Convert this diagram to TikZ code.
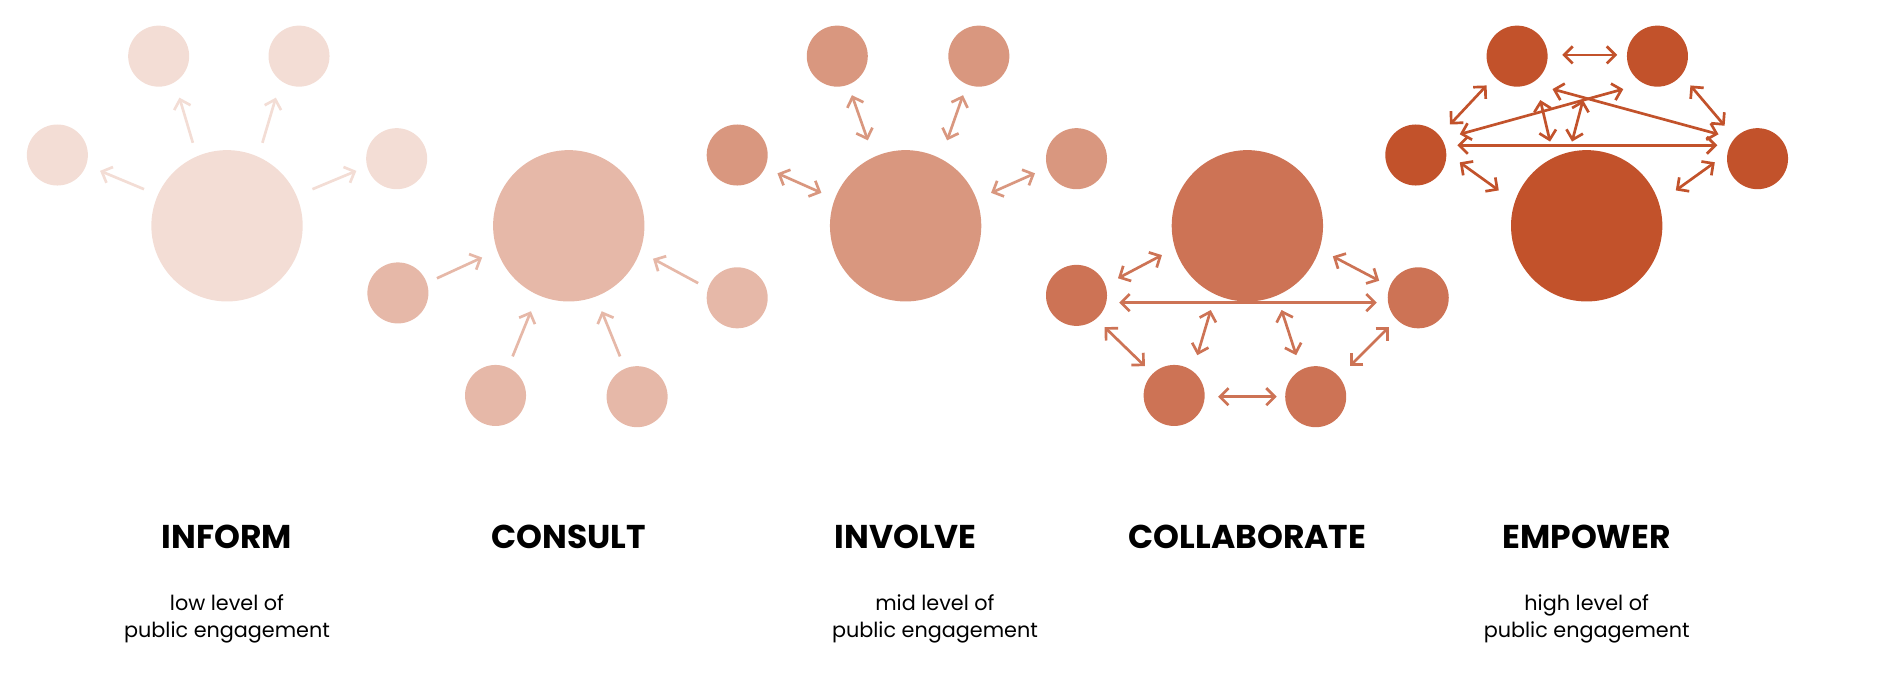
\documentclass[tikz,border=0pt]{standalone}
\usepackage{fontspec}
\setmainfont{Poppins}
\usetikzlibrary{arrows.meta}
\definecolor{c1}{HTML}{F3DDD5}
\definecolor{c2}{HTML}{E6B8A8}
\definecolor{c3}{HTML}{D9977F}
\definecolor{c4}{HTML}{CD7355}
\definecolor{c5}{HTML}{C2522B}
\begin{document}
\begin{tikzpicture}[x=1pt,y=-1pt,
  big/.style={circle,minimum size=124pt,inner sep=0pt},
  sm/.style={circle,minimum size=50pt,inner sep=0pt},
  ar/.style={line width=2.2pt,-{Straight Barb[length=7pt,width=14pt]}},
  dar/.style={line width=2.2pt,{Straight Barb[length=7pt,width=14pt]}-{Straight Barb[length=7pt,width=14pt]}},
  title/.style={font=\bfseries\fontsize{27}{30}\selectfont},
  sub/.style={font=\fontsize{17}{22}\selectfont,align=center}]
\useasboundingbox (0,0) rectangle (1560,557);
% INFORM
\begin{scope}[every node/.append style={fill=c1},c1]
\node[big] (ib) at (186,185) {};
\node[sm] (i1) at (130,46) {}; \node[sm] (i2) at (245,46) {};
\node[sm] (i3) at (47,127) {}; \node[sm] (i4) at (325,130) {};
\end{scope}
\coordinate (ia1) at (158,117); \coordinate (ib1) at (147,80);
\coordinate (ia2) at (215,117); \coordinate (ib2) at (226,80);
\coordinate (ia3) at (118,155); \coordinate (ib3) at (82,140);
\coordinate (ia4) at (256,155); \coordinate (ib4) at (292,140);
\foreach \k in {1,2,3,4}{\draw[ar,c1] (ia\k) -- (ib\k);}
% CONSULT
\begin{scope}[every node/.append style={fill=c2}]
\node[big] (cb) at (466,185) {};
\node[sm] (c1n) at (326,240) {}; \node[sm] (c2n) at (604,244) {};
\node[sm] (c3n) at (406,324) {}; \node[sm] (c4n) at (522,325) {};
\end{scope}
\coordinate (ca1) at (358,228); \coordinate (cz1) at (395,211);
\coordinate (ca2) at (572,232); \coordinate (cz2) at (535,212);
\coordinate (ca3) at (420,292); \coordinate (cz3) at (435,255);
\coordinate (ca4) at (508,292); \coordinate (cz4) at (493,255);
\foreach \k in {1,2,3,4}{\draw[ar,c2] (ca\k) -- (cz\k);}
% INVOLVE
\begin{scope}[every node/.append style={fill=c3}]
\node[big] (vb) at (742,185) {};
\node[sm] (v1) at (686,46) {}; \node[sm] (v2) at (802,46) {};
\node[sm] (v3) at (604,127) {}; \node[sm] (v4) at (882,130) {};
\end{scope}
\coordinate (va1) at (698,78); \coordinate (vz1) at (711,115);
\coordinate (va2) at (789,78); \coordinate (vz2) at (776,115);
\coordinate (va3) at (637,142); \coordinate (vz3) at (673,158);
\coordinate (va4) at (812,158); \coordinate (vz4) at (848,142);
\foreach \k in {1,2,3,4}{\draw[dar,c3] (va\k) -- (vz\k);}
% COLLABORATE
\begin{scope}[every node/.append style={fill=c4}]
\node[big] (lb) at (1022,185) {};
\node[sm] (l1) at (882,242) {}; \node[sm] (l2) at (1162,244) {};
\node[sm] (l3) at (962,324) {}; \node[sm] (l4) at (1078,325) {};
\end{scope}
\coordinate (la1) at (917,248); \coordinate (lz1) at (1128,248);
\coordinate (la2) at (916,228); \coordinate (lz2) at (952,209);
\coordinate (la3) at (1092,210); \coordinate (lz3) at (1130,230);
\coordinate (la4) at (905,268); \coordinate (lz4) at (938,300);
\coordinate (la5) at (1138,268); \coordinate (lz5) at (1106,300);
\coordinate (la6) at (992,254); \coordinate (lz6) at (981,291);
\coordinate (la7) at (1050,254); \coordinate (lz7) at (1062,291);
\coordinate (la8) at (998,325); \coordinate (lz8) at (1046,325);
\foreach \k in {1,...,8}{\draw[dar,c4] (la\k) -- (lz\k);}
% EMPOWER
\begin{scope}[every node/.append style={fill=c5}]
\node[big] (eb) at (1300,185) {};
\node[sm] (e1) at (1243,46) {}; \node[sm] (e2) at (1358,46) {};
\node[sm] (e3) at (1160,127) {}; \node[sm] (e4) at (1440,130) {};
\end{scope}
\coordinate (ea1) at (1280,45); \coordinate (ez1) at (1325,45);
\coordinate (ea2) at (1188,102); \coordinate (ez2) at (1218,70);
\coordinate (ea3) at (1385,70); \coordinate (ez3) at (1413,103);
\coordinate (ea4) at (1194,119); \coordinate (ez4) at (1407,119);
\coordinate (ea5) at (1196,110); \coordinate (ez5) at (1330,73);
\coordinate (ea6) at (1272,73); \coordinate (ez6) at (1408,110);
\coordinate (ea7) at (1262,82); \coordinate (ez7) at (1270,116);
\coordinate (ea8) at (1297,82); \coordinate (ez8) at (1288,116);
\coordinate (ea9) at (1196,133); \coordinate (ez9) at (1228,156);
\coordinate (ea10) at (1405,133); \coordinate (ez10) at (1373,156);
\foreach \k in {1,...,10}{\draw[dar,c5] (ea\k) -- (ez\k);}
% texts
\node[title] (t1) at (186,440) {INFORM};
\node[title] (t2) at (466,440) {CONSULT};
\node[title] (t3) at (742,440) {INVOLVE};
\node[title] (t4) at (1022,440) {COLLABORATE};
\node[title] (t5) at (1300,440) {EMPOWER};
\node[sub] (s1) at (186,507) {low level of\\public engagement};
\node[sub] (s3) at (766,507) {mid level of\\public engagement};
\node[sub] (s5) at (1300,507) {high level of\\public engagement};
\end{tikzpicture}
\end{document}
